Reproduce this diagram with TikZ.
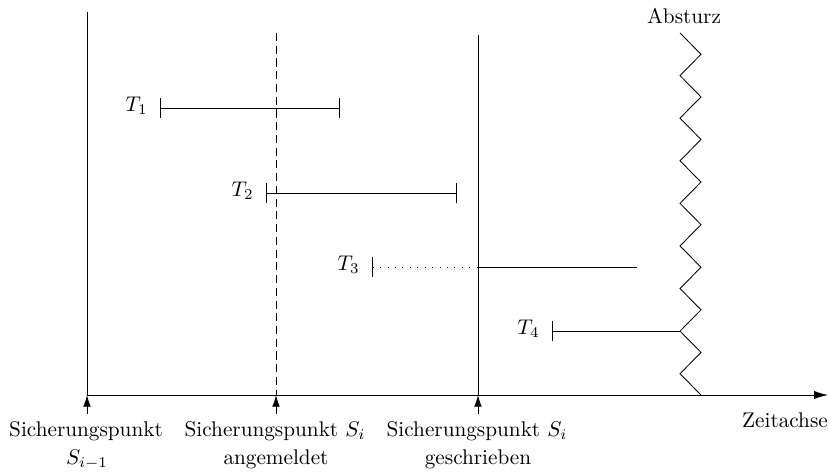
\documentclass[tikz,border=0pt]{standalone}
\usetikzlibrary{arrows.meta}
\begin{document}
\begin{tikzpicture}[x=0.471pt,y=-0.471pt,
  lbl/.style={anchor=base, inner sep=0pt},
  tlbl/.style={anchor=east, inner sep=0pt},
  upar/.style={-{Latex[length=5.5pt,width=3.6pt]}},
  axar/.style={-{Latex[length=6.5pt,width=3.8pt]}},
  interval/.style={{Bar[width=9.4pt]}-{Bar[width=9.4pt]}},
  openinterval/.style={{Bar[width=9.4pt]}-},
  sparsedots/.style={dash pattern=on 0.4pt off 3.1pt},
  chkdash/.style={dash pattern=on 3.8pt off 2.2pt},
  ]
\useasboundingbox (0,0) rectangle (830,473);

% axis
\coordinate (ax0) at (87,395);
\coordinate (axE) at (828,395);
\draw[axar] (ax0) -- (axE);
\node[lbl] (zeit) at (785,427) {Zeitachse};

% vertical lines
\coordinate (v1t) at (87,12);
\coordinate (v2t) at (276,33);
\coordinate (v2b) at (276,395);
\coordinate (v3t) at (478,35);
\coordinate (v3b) at (478,395);
\draw (v1t) -- (ax0);
\draw[chkdash] (v2t) -- (v2b);
\draw (v3t) -- (v3b);

% up arrows
\coordinate (a1) at (87,414);
\coordinate (a2) at (276,414);
\coordinate (a3) at (478,414);
\draw[upar] (a1) -- (ax0);
\draw[upar] (a2) -- (v2b);
\draw[upar] (a3) -- (v3b);

% labels below
\node[lbl] (s1a) at (86,436) {Sicherungspunkt};
\node[lbl] (s1b) at (87,464) {$S_{i-1}$};
\node[lbl] (s2a) at (275,436) {Sicherungspunkt $S_i$};
\node[lbl] (s2b) at (276,464) {angemeldet};
\node[lbl] (s3a) at (477,436) {Sicherungspunkt $S_i$};
\node[lbl] (s3b) at (478,464) {geschrieben};

% crash zigzag
\node[lbl] (crash) at (684,23) {Absturz};
\coordinate (z0) at (680,33);
\coordinate (z14) at (680,331.12);
\coordinate (z17) at (701,395);
\draw (z0) -- (701,54.29) -- (680,75.59) -- (701,96.88) -- (680,118.18)
  -- (701,139.47) -- (680,160.76) -- (701,182.06) -- (680,203.35)
  -- (701,224.65) -- (680,245.94) -- (701,267.24) -- (680,288.53)
  -- (701,309.82) -- (z14) -- (701,352.41) -- (680,373.71) -- (z17);

% transactions
\coordinate (t1s) at (160,108);
\coordinate (t1e) at (340,108);
\draw[interval] (t1s) -- (t1e);
\node[tlbl] (T1) at (148,106) {$T_1$};

\coordinate (t2s) at (266,193);
\coordinate (t2e) at (457,193);
\draw[interval] (t2s) -- (t2e);
\node[tlbl] (T2) at (254,191) {$T_2$};

\coordinate (t3s) at (372,267);
\coordinate (t3m) at (478,267);
\coordinate (t3e) at (637,267);
\draw[openinterval, sparsedots] (t3s) -- (t3m);
\draw (t3m) -- (t3e);
\node[tlbl] (T3) at (360,265) {$T_3$};

\coordinate (t4s) at (552,331.12);
\draw[openinterval] (t4s) -- (z14);
\node[tlbl] (T4) at (540,329) {$T_4$};
\end{tikzpicture}
\end{document}
